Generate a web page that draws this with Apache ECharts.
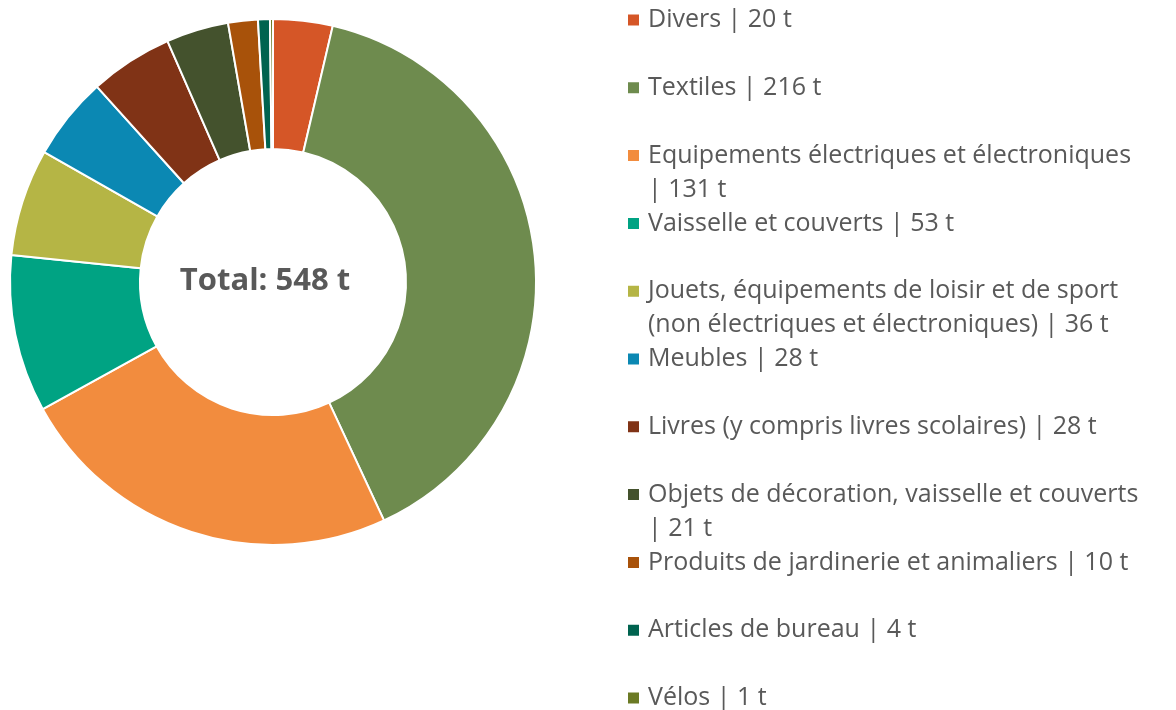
<!DOCTYPE html>
<html>
<head>
<meta charset="utf-8">
<script src="https://cdn.jsdelivr.net/npm/echarts@6/dist/echarts.min.js"></script>
<style>
  html, body { margin: 0; padding: 0; background: #fff; }
  #chart { width: 1176px; height: 710px; }
</style>
</head>
<body>
<div id="chart"></div>
<script>
  const categories = [
    'Divers',
    'Textiles',
    'Equipements électriques et électroniques',
    'Vaisselle et couverts',
    'Jouets, équipements de loisir et de sport (non électriques et électroniques)',
    'Meubles',
    'Livres (y compris livres scolaires)',
    'Objets de décoration, vaisselle et couverts',
    'Produits de jardinerie et animaliers',
    'Articles de bureau',
    'Vélos'
  ];
  const tonnes = [20, 216, 131, 53, 36, 28, 28, 21, 10, 4, 1];
  const colors = ['#D55627', '#6E8B4E', '#F28C3E', '#00A383', '#B5B545', '#0B88B3',
    '#803316', '#44522D', '#A8520A', '#00634F', '#6B7A24'];

  const total = tonnes.reduce((a, b) => a + b, 0);
  const font = 'Open Sans';
  const fontSize = 25;
  const lineH = 34;
  const wrapWidth = 520;
  const pitch = 67.8;
  const firstCenter = 20;

  const ctx = document.createElement('canvas').getContext('2d');
  ctx.font = fontSize + 'px "' + font + '"';

  // simple word wrap; "| 131 t" is kept as one piece
  function wrapLabel(i) {
    const words = categories[i].split(' ').concat(['| ' + tonnes[i] + ' t']);
    const lines = [];
    let cur = '';
    words.forEach((w) => {
      const test = cur ? cur + ' ' + w : w;
      if (cur && ctx.measureText(test).width > wrapWidth) {
        lines.push(cur);
        cur = w;
      } else {
        cur = test;
      }
    });
    lines.push(cur);
    return lines;
  }
  const labels = categories.map((n, i) => wrapLabel(i));

  const myChart = echarts.init(document.getElementById('chart'));

  // one legend per entry so every entry keeps the same slot height
  const legends = categories.map((name, i) => {
    const two = labels[i].length > 1;
    return {
      orient: 'vertical',
      left: 626,
      top: firstCenter + i * pitch - (two ? lineH * 1.5 : lineH / 2),
      padding: 0,
      icon: 'rect',
      itemWidth: 13,
      itemHeight: 13,
      selectedMode: false,
      data: [name],
      // leading blank line puts the first text line level with the marker
      formatter: (n) => {
        const ls = labels[categories.indexOf(n)];
        return (ls.length > 1 ? '\n' : '') + ls.join('\n');
      },
      textStyle: {
        fontFamily: font,
        fontSize: fontSize,
        lineHeight: lineH,
        color: '#595959',
        padding: [0, 0, 0, 3]
      }
    };
  });

  const option = {
    animation: false,
    color: colors,
    title: {
      text: 'Total: ' + total + ' t',
      left: 260,
      top: 276,
      textAlign: 'center',
      textVerticalAlign: 'middle',
      textStyle: {
        fontFamily: font,
        fontSize: 31,
        fontWeight: 'bold',
        color: '#595959'
      }
    },
    legend: legends,
    series: [
      {
        type: 'pie',
        center: [273, 282],
        radius: [133, 263],
        startAngle: 90,
        clockwise: true,
        label: { show: false },
        labelLine: { show: false },
        itemStyle: { borderColor: '#fff', borderWidth: 2 },
        data: categories.map((name, i) => ({ name: name, value: tonnes[i] }))
      }
    ]
  };

  myChart.setOption(option);
</script>
</body>
</html>
